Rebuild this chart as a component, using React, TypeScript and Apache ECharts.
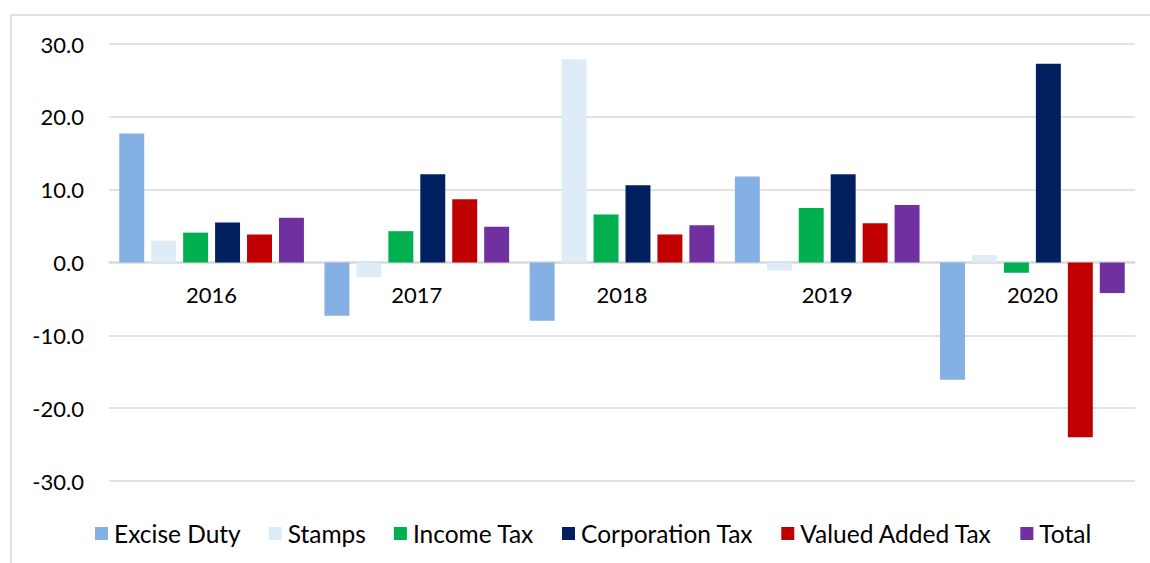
import React, { useEffect, useRef } from "react";
import * as echarts from "echarts";

const categories = ["2016", "2017", "2018", "2019", "2020"];
const seriesNames = ["Excise Duty", "Stamps", "Income Tax", "Corporation Tax", "Valued Added Tax", "Total"];
const exciseDuty = [17.7, -7.3, -8.0, 11.8, -16.1];
const stamps = [3.0, -2.0, 27.9, -1.1, 1.0];
const incomeTax = [4.1, 4.3, 6.6, 7.5, -1.4];
const corporationTax = [5.5, 12.1, 10.6, 12.1, 27.3];
const valueAddedTax = [3.85, 8.7, 3.85, 5.4, -24.0];
const total = [6.15, 4.9, 5.1, 7.9, -4.2];
const colors = ["#84b0e3", "#ddecf7", "#00b050", "#002060", "#c00000", "#7030a0"];

const FONT = "Lato";

export default function App() {
  const ref = useRef<HTMLDivElement>(null);
  useEffect(() => {
    if (!ref.current) return;
    const chart = echarts.init(ref.current, undefined, { renderer: "svg" });
    const values = [exciseDuty, stamps, incomeTax, corporationTax, valueAddedTax, total];
    chart.setOption({
      animation: false,
      backgroundColor: "#ffffff",
      textStyle: { fontFamily: FONT },
      graphic: [
        {
          type: "rect",
          shape: { x: 11, y: 15, width: 1160, height: 570 },
          style: { fill: "none", stroke: "#d9d9d9", lineWidth: 1.5 },
          silent: true,
        },
      ],
      grid: { left: 109, right: 15, top: 44, bottom: 82, containLabel: false },
      legend: {
        left: 90,
        top: 516,
        itemWidth: 13,
        itemHeight: 13,
        itemGap: 28,
        icon: "rect",
        textStyle: { fontFamily: FONT, fontSize: 24.5, color: "#000", padding: [0, 0, 0, 1] },
        data: seriesNames,
      },
      xAxis: {
        type: "category",
        data: categories,
        position: "bottom",
        offset: -219,
        axisTick: { show: false },
        axisLine: { onZero: false, lineStyle: { color: "#d9d9d9", width: 1.5 } },
        axisLabel: { fontFamily: FONT, fontSize: 22, color: "#000", margin: 21 },
        splitLine: { show: false },
      },
      yAxis: {
        type: "value",
        min: -30,
        max: 30,
        interval: 10,
        axisLine: { show: false },
        axisTick: { show: false },
        axisLabel: {
          fontFamily: FONT,
          fontSize: 22,
          color: "#000",
          margin: 25,
          formatter: (v: number) => v.toFixed(1),
        },
        splitLine: { lineStyle: { color: "#d9d9d9", width: 1.5 } },
      },
      series: seriesNames.map((name, i) => ({
        name,
        type: "bar",
        data: values[i],
        barGap: "28%",
        barCategoryGap: "10%",
        itemStyle: { color: colors[i] },
      })),
    });
    return () => chart.dispose();
  }, []);
  return (
    <div
      ref={ref}
      style={{ position: "fixed", left: 0, top: 0, width: 1150, height: 563 }}
    />
  );
}
